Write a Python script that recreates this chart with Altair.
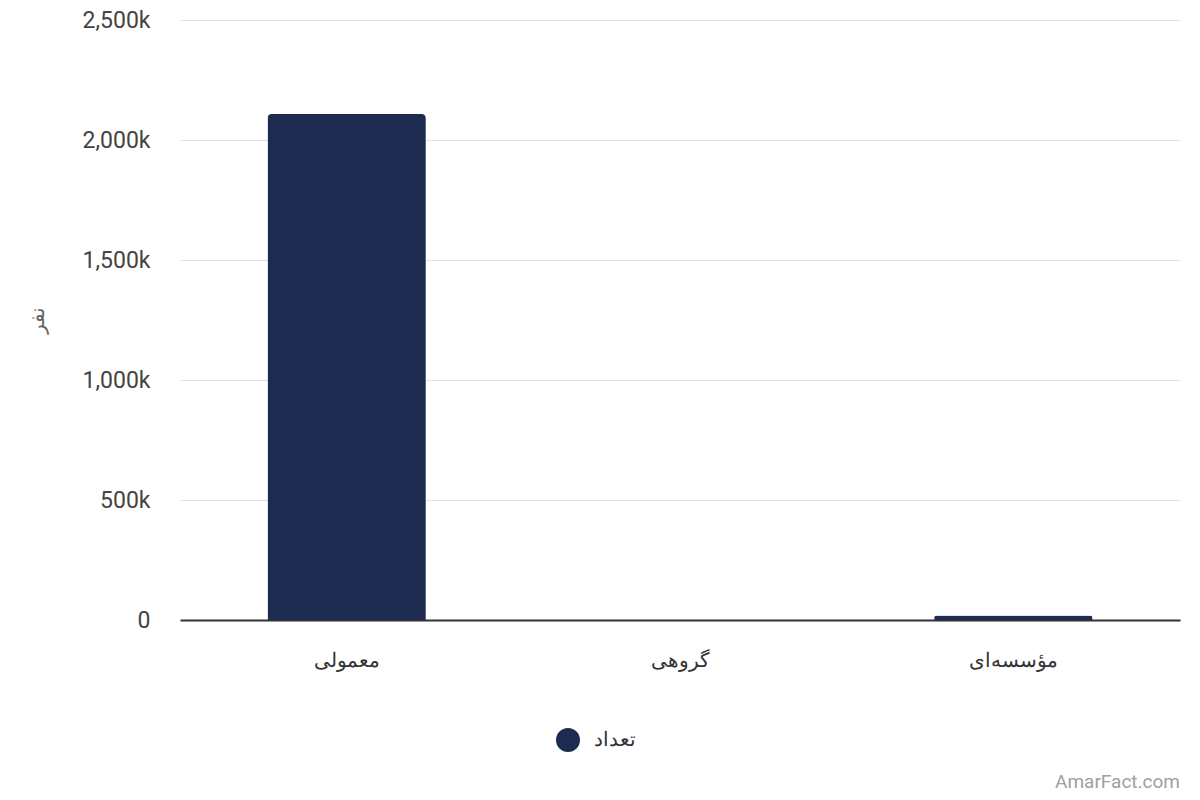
import altair as alt
import pandas as pd

categories = ["معمولی", "گروهی", "مؤسسه‌ای"]
values = [2108000, 300, 19000]
series_name = "تعداد"
y_ticks = [0, 500000, 1000000, 1500000, 2000000, 2500000]
y_title = "نفر"
watermark = "AmarFact.com"

df = pd.DataFrame({"category": categories, "value": values, "series": [series_name] * len(categories)})
wm = pd.DataFrame({"t": [watermark]})

FONT = "Roboto"

bars = alt.Chart(df).mark_bar(
    cornerRadiusTopLeft=4, cornerRadiusTopRight=4
).encode(
    x=alt.X("category:N", sort=categories, title=None,
            scale=alt.Scale(paddingInner=0.525, paddingOuter=0.2625),
            axis=alt.Axis(labelAngle=0, labelFontSize=20, labelColor="#333333",
                          labelPadding=30, ticks=False, domain=True,
                          domainColor="#333333", domainWidth=2, grid=False,
                          labelFont=FONT)),
    y=alt.Y("value:Q", title=y_title,
            scale=alt.Scale(domain=[0, 2500000]),
            axis=alt.Axis(values=y_ticks, ticks=False, domain=False,
                          labelExpr="datum.value == 0 ? '0' : format(datum.value/1000, ',') + 'k'",
                          labelFontSize=23, labelColor="#444444", labelPadding=30,
                          labelFont=FONT, gridColor="#e0e0e0", gridWidth=1,
                          titleFontSize=20, titleColor="#666666", titleFontWeight="normal",
                          titleX=-133, titleY=300, titleFont=FONT)),
    color=alt.Color("series:N", scale=alt.Scale(range=["#1c2b4f"]),
                    legend=alt.Legend(title=None, orient="none", legendX=376, legendY=708,
                                      symbolType="circle", symbolSize=576,
                                      labelFontSize=20, labelColor="#333333",
                                      labelFont=FONT, padding=0, labelOffset=14,
                                      symbolStrokeWidth=0)),
)

wm_text = alt.Chart(wm).mark_text(
    align="right", baseline="middle", fontSize=19, color="#a0a0a0", font=FONT
).encode(
    text="t:N",
    x=alt.value(1000),
    y=alt.value(762),
)

chart = alt.layer(bars, wm_text).properties(
    width=1000, height=600,
    autosize=alt.AutoSizeParams(type="none"),
    padding={"left": 172, "top": 12, "right": 12, "bottom": 178},
    background="white",
).configure_view(stroke=None)

chart.save("out.html", embed_options={"renderer": "svg", "actions": False})
